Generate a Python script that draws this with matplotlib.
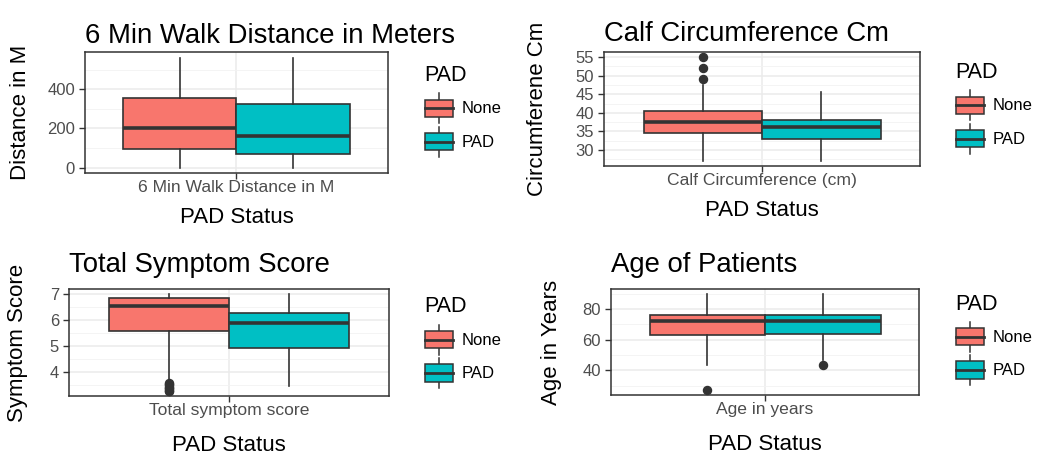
import matplotlib
matplotlib.use("Agg")
import matplotlib.pyplot as plt
from matplotlib.patches import Patch, Rectangle
from matplotlib.lines import Line2D
from matplotlib.legend_handler import HandlerBase
from matplotlib.ticker import MultipleLocator

plt.rcParams['font.family'] = ['Liberation Sans', 'DejaVu Sans']

# box stats: [whisker low, q1, median, q3, whisker high]
walk_none = [0, 95, 205, 355, 564]
walk_pad = [0, 70, 164, 327, 564]
walk_out_none = []
walk_out_pad = []

calf_none = [27.1, 34.7, 37.6, 40.4, 47.5]
calf_pad = [27.1, 33.1, 36.1, 38.2, 45.5]
calf_out_none = [49, 52, 55]
calf_out_pad = []

symp_none = [3.75, 5.59, 6.54, 6.83, 7.0]
symp_pad = [3.46, 4.93, 5.87, 6.28, 7.0]
symp_out_none = [3.6, 3.55, 3.5, 3.45, 3.4, 3.35, 3.3, 3.28]
symp_out_pad = []

age_none = [43.6, 63.2, 72.4, 76.4, 90]
age_pad = [47, 64.0, 72.5, 76.4, 90]
age_out_none = [27.1]
age_out_pad = [43.8]

groups = ["None", "PAD"]
fills = ["#F8766D", "#00BFC4"]
EDGE = "#333333"

panels = [
    dict(title="6 Min Walk Distance in Meters", ylab="Distance in M", xtick="6 Min Walk Distance in M",
         stats=[walk_none, walk_pad], outs=[walk_out_none, walk_out_pad], major=200, minor=100,
         rect=[85, 52, 388, 173], ylab_x=-0.178, xlab_y=-0.28, tpad=6.7, leg=(424.5, 65)),
    dict(title="Calf Circumference Cm", ylab="Circumferene Cm", xtick="Calf Circumference (cm)",
         stats=[calf_none, calf_pad], outs=[calf_out_none, calf_out_pad], major=5, minor=2.5,
         rect=[604, 52, 920, 166], ylab_x=-0.178, xlab_y=-0.298, tpad=7.8, leg=(955.5, 62)),
    dict(title="Total Symptom Score", ylab="Symptom Score", xtick="Total symptom score",
         stats=[symp_none, symp_pad], outs=[symp_out_none, symp_out_pad], major=1, minor=0.5,
         rect=[69, 289, 389, 396], ylab_x=-0.128, xlab_y=-0.368, tpad=12.5, leg=(424.5, 296.5)),
    dict(title="Age of Patients", ylab="Age in Years", xtick="Age in years",
         stats=[age_none, age_pad], outs=[age_out_none, age_out_pad], major=20, minor=10,
         rect=[611, 289, 919, 395], ylab_x=-0.159, xlab_y=-0.372, tpad=12.2, leg=(955.5, 293.5)),
]


class BoxKey(HandlerBase):
    def create_artists(self, legend, orig_handle, xdescent, ydescent, width, height, fontsize, trans):
        x0, y0 = -xdescent, -ydescent
        b0, b1 = y0 + 0.21 * height, y0 + 0.79 * height
        xm = x0 + width / 2
        w1 = Line2D([xm, xm], [y0, b0], color=EDGE, lw=1.1, transform=trans)
        w2 = Line2D([xm, xm], [b1, y0 + height], color=EDGE, lw=1.1, transform=trans)
        box = Rectangle((x0, b0), width, b1 - b0, facecolor=orig_handle.get_facecolor(),
                        edgecolor=EDGE, lw=1.1, transform=trans)
        med = Line2D([x0, x0 + width], [(b0 + b1) / 2] * 2, color=EDGE, lw=2.0, transform=trans)
        return [w1, w2, box, med]


W, H = 1040, 455
fig = plt.figure(figsize=(W / 100, H / 100), dpi=100)

for p in panels:
    l, t, r, b = p["rect"]
    ax = fig.add_axes([l / W, 1 - b / H, (r - l) / W, (b - t) / H])
    bstats = []
    for s, o in zip(p["stats"], p["outs"]):
        bstats.append(dict(whislo=s[0], q1=s[1], med=s[2], q3=s[3], whishi=s[4], fliers=o))
    bp = ax.bxp(bstats, positions=[0.775, 1.225], widths=0.45, showcaps=False, patch_artist=True,
                boxprops=dict(edgecolor=EDGE, linewidth=1.2),
                whiskerprops=dict(color=EDGE, linewidth=1.2),
                medianprops=dict(color=EDGE, linewidth=2.6),
                flierprops=dict(marker="o", markerfacecolor=EDGE, markeredgecolor=EDGE, markersize=5.8))
    for patch, c in zip(bp["boxes"], fills):
        patch.set_facecolor(c)

    vals = [v for s in p["stats"] for v in s] + [v for o in p["outs"] for v in o]
    lo, hi = min(vals), max(vals)
    pad = 0.05 * (hi - lo)
    ax.set_ylim(lo - pad, hi + pad)
    ax.set_xlim(0.4, 1.6)
    ax.set_xticks([1])
    ax.set_xticklabels([p["xtick"]])
    ax.yaxis.set_major_locator(MultipleLocator(p["major"]))
    ax.yaxis.set_minor_locator(MultipleLocator(p["minor"]))
    ax.grid(which="major", color="#EBEBEB", linewidth=1.1)
    ax.grid(which="minor", axis="y", color="#F2F2F2", linewidth=0.6)
    ax.set_axisbelow(True)
    for sp in ax.spines.values():
        sp.set_color(EDGE)
        sp.set_linewidth(1.1)
    ax.tick_params(which="major", length=4, width=1.0, color=EDGE, labelcolor="#4D4D4D",
                   labelsize=12)
    ax.tick_params(axis="x", pad=1.2, labelsize=12.6)
    ax.tick_params(axis="y", pad=3.2)
    ax.tick_params(which="minor", length=0)

    ax.set_title(p["title"], loc="left", fontsize=19.8, pad=p["tpad"], color="black")
    ax.set_xlabel("PAD Status", fontsize=16)
    ax.set_ylabel(p["ylab"], fontsize=16)
    ax.xaxis.set_label_coords(0.5, p["xlab_y"])
    ax.yaxis.set_label_coords(p["ylab_x"], 0.5)

    handles = [Patch(facecolor=c, label=g) for c, g in zip(fills, groups)]
    lx, ly = p["leg"]
    leg = ax.legend(handles=handles, title="PAD", loc="upper left",
                    bbox_to_anchor=(lx / W, 1 - ly / H), bbox_transform=fig.transFigure,
                    frameon=False, fontsize=12, title_fontsize=15.5, borderpad=0,
                    borderaxespad=0, handlelength=1.68, handleheight=2.39, labelspacing=0.2,
                    handletextpad=0.53, alignment="left", handler_map={Patch: BoxKey()})
    leg._legend_box.sep = 5.2

fig.savefig("out.png", dpi=100)
